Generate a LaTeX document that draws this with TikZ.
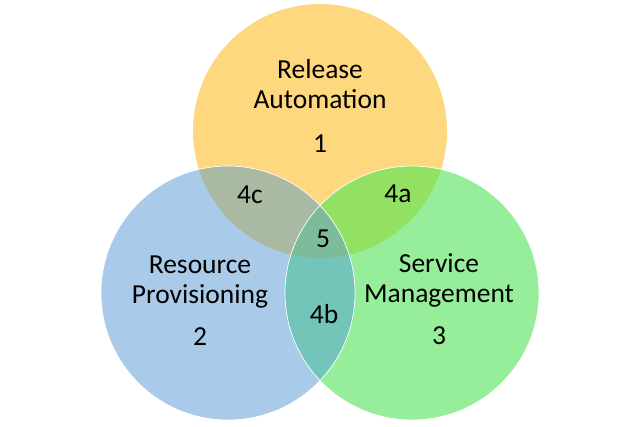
\documentclass[tikz,border=0pt]{standalone}
\usepackage{fontspec}
\setmainfont{Carlito}
\definecolor{relfill}{HTML}{FDD87F}
\definecolor{resfill}{HTML}{AACAEA}
\definecolor{svcfill}{HTML}{97EE9A}
\definecolor{relres}{HTML}{AABAA2}
\definecolor{relsvc}{HTML}{93E162}
\definecolor{ressvc}{HTML}{74C5B9}
\definecolor{allthree}{HTML}{7DBC9B}
\begin{document}
\begin{tikzpicture}[x=1bp,y=-1bp]
\def\rad{127bp}
\tikzset{lbl/.style={font=\fontsize{27.6}{30}\selectfont,align=center,inner sep=0pt,anchor=base},
ring/.style={draw=white,line width=0.7pt}}
\useasboundingbox (0,0) rectangle (640,426);
\coordinate (rel) at (320,131);
\coordinate (res) at (228,293);
\coordinate (svc) at (412,293);
\def\relc{(rel) circle[radius=\rad]}
\def\resc{(res) circle[radius=\rad]}
\def\svcc{(svc) circle[radius=\rad]}
\fill[relfill] \relc;
\fill[resfill] \resc;
\fill[svcfill] \svcc;
\begin{scope} \clip \relc; \fill[relres] \resc; \fill[relsvc] \svcc; \end{scope}
\begin{scope} \clip \resc; \fill[ressvc] \svcc; \end{scope}
\begin{scope} \clip \relc; \clip \resc; \fill[allthree] \svcc; \end{scope}
\draw[ring] \resc; \draw[ring] \svcc;
% labels (base = last line)
\node[lbl] (relname) at (320,108) {Release\\Automation};
\node[lbl] (relnum) at (320,152) {1};
\node[lbl] (resname) at (200,303) {Resource\\Provisioning};
\node[lbl] (resnum) at (200,345) {2};
\node[lbl] (svcname) at (439,302) {Service\\Management};
\node[lbl] (svcnum) at (439,344) {3};
\node[lbl] (ovA) at (398,202) {4a};
\node[lbl] (ovB) at (324,323) {4b};
\node[lbl] (ovC) at (250,203) {4c};
\node[lbl] (core) at (323,247) {5};
\end{tikzpicture}
\end{document}
